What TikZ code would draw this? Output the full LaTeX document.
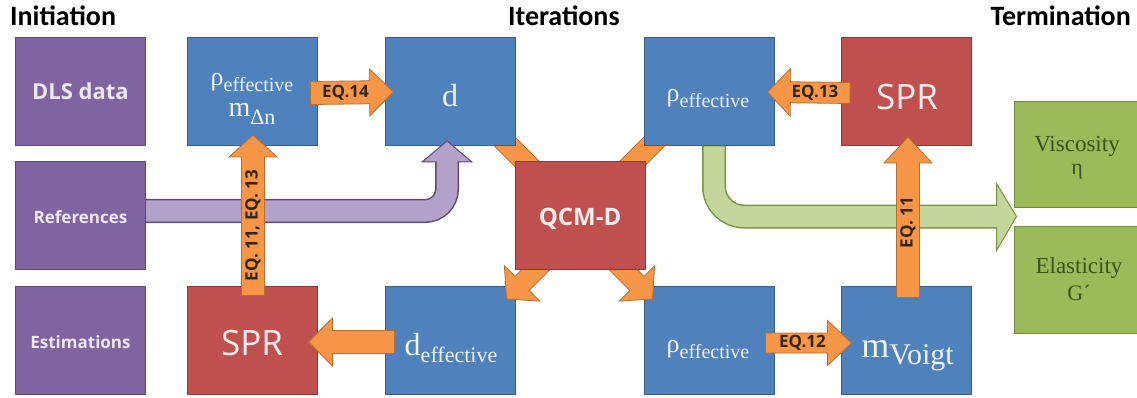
\documentclass[tikz,border=0pt]{standalone}
\usepackage{fontspec}
\setmainfont{Liberation Serif}
\newfontfamily\osans{Open Sans}
\newfontfamily\carl{Carlito}
\usetikzlibrary{calc}
\pgfdeclarelayer{background}
\pgfsetlayers{background,main}
\definecolor{cpurple}{HTML}{8064A2}\definecolor{cpurpleB}{HTML}{5C4776}
\definecolor{cblue}{HTML}{4F81BD}\definecolor{cblueB}{HTML}{385D8A}
\definecolor{cred}{HTML}{C0504D}\definecolor{credB}{HTML}{8C3836}
\definecolor{cgreen}{HTML}{9BBB59}\definecolor{cgreenB}{HTML}{71893F}
\definecolor{corange}{HTML}{F79646}\definecolor{corangeB}{HTML}{B66D31}
\definecolor{lpurple}{HTML}{B3A2C7}\definecolor{lpurpleB}{HTML}{5F497A}
\definecolor{lgreen}{HTML}{C3D69B}\definecolor{lgreenB}{HTML}{77933C}
\definecolor{tpurple}{HTML}{EDE8F3}\definecolor{tblue}{HTML}{EEF3FA}
\definecolor{tred}{HTML}{FBEDED}\definecolor{tgreen}{HTML}{3E5119}
\definecolor{tlab}{HTML}{33261A}
\newcommand\fs[1]{\fontsize{#1}{#1}\selectfont}
\newcommand\blockarrow[6]{%
  \coordinate (bah) at ($(#3)!#6!(#2)$);
  \filldraw[#1] ($(#2)!#4!90:(#3)$) -- ($(bah)!#4!90:(#3)$) -- ($(bah)!#5!90:(#3)$) -- (#3)
    -- ($(bah)!#5!-90:(#3)$) -- ($(bah)!#4!-90:(#3)$) -- ($(#2)!#4!-90:(#3)$) -- cycle;}
\newcommand\effs[2]{\raisebox{-#1}{\fs{#2}effective}}
\begin{document}
\begin{tikzpicture}[x=1pt,y=-1pt,
  box/.style={draw=#1B, fill=#1, line width=1pt, minimum width=130pt, minimum height=108pt, inner sep=0pt},
  txt/.style={inner sep=0pt, anchor=base},
  title/.style={font=\carl\bfseries\fs{28}, inner sep=0pt},
  oarrow/.style={fill=corange, draw=corangeB, line width=0.8pt},
  eqlab/.style={font=\osans\bfseries\fs{17}, text=tlab, inner sep=0pt},
  sanslab/.style={txt, font=\osans\bfseries\fs{#1}},
  serif/.style={txt, text=tblue}]
\useasboundingbox (0,0) rectangle (1137,398);
\clip (0,0) rectangle (1137,398);
% titles
\node[title, anchor=base west] (tI) at (10,26) {Initiation};
\node[title, anchor=base west] (tIt) at (508,26) {Iterations};
\node[title, anchor=base east] (tT) at (1131,26) {Termination};
% boxes
\node[box=cpurple] (dls) at (80.5,91.5) {};
\node[box=cpurple] (ref) at (80.5,215.5) {};
\node[box=cpurple] (est) at (80.5,340) {};
\node[box=cblue] (rhom) at (252,91.5) {};
\node[box=cred] (sprB) at (252,340) {};
\node[box=cblue] (d) at (450,91.5) {};
\node[box=cblue] (deff) at (450,340) {};
\node[box=cblue] (rhoT) at (709,91.5) {};
\node[box=cblue] (rhoB) at (709,340) {};
\node[box=cred] (sprT) at (906.5,91.5) {};
\node[box=cblue] (mv) at (906.5,340) {};
\node[box=cgreen, minimum width=126pt, minimum height=105pt] (visc) at (1077,154.5) {};
\node[box=cgreen, minimum width=126pt, minimum height=107pt] (elas) at (1077,279.5) {};
% diagonal arrows behind the upper boxes
\begin{pgfonlayer}{background}
  \coordinate (tls) at (545,182);
  \coordinate (tle) at ($(d.south east)+(-40,-34)$);
  \blockarrow{oarrow}{tls}{tle}{10.5pt}{20pt}{20pt}
  \coordinate (trs) at (614,182);
  \coordinate (tre) at ($(rhoT.south west)+(40,-34)$);
  \blockarrow{oarrow}{trs}{tre}{10.5pt}{20pt}{20pt}
\end{pgfonlayer}
% diagonal arrows toward lower boxes
\coordinate (bls) at ($(deff.north east)+(36,-31.5)$);
\coordinate (ble) at ($(deff.north east)+(-9,13.5)$);
\blockarrow{oarrow}{bls}{ble}{10pt}{25pt}{22pt}
\coordinate (brs) at ($(rhoB.north west)+(-36,-31.5)$);
\coordinate (bre) at ($(rhoB.north west)+(9,13.5)$);
\blockarrow{oarrow}{brs}{bre}{10pt}{25pt}{22pt}
\node[box=cred, minimum height=107pt] (qcm) at (580,215.5) {};
% box texts
\node[sanslab=22, text=tpurple] (tdls) at ($(dls.center)+(0,8.5)$) {DLS data};
\node[sanslab=17, text=tpurple] (tref) at ($(ref.center)+(0,7.5)$) {References};
\node[sanslab=17, text=tpurple] (test) at ($(est.center)+(0,8)$) {Estimations};
\node[txt, font=\osans\fs{35}, text=tred] (tsprB) at ($(sprB.center)+(0,15)$) {SPR};
\node[txt, font=\osans\fs{35}, text=tred] (tsprT) at ($(sprT.center)+(0.5,18.5)$) {SPR};
\node[sanslab=24, text=tred] (tqcm) at ($(qcm.center)+(0,9.5)$) {QCM-D};
\node[serif] (trhom1) at ($(rhom.center)+(0,-5.5)$) {{\fs{26}ρ}\effs{6pt}{20}};
\node[serif] (trhom2) at ($(rhom.center)+(0,25.5)$) {{\fs{28}m}\raisebox{-8pt}{\fs{22}Δn}};
\node[serif] (td) at ($(d.center)+(0,15.5)$) {\fs{32}d};
\node[serif] (trhoT) at ($(rhoT.center)+(-1,10.5)$) {{\fs{26}ρ}\effs{6pt}{20}};
\node[serif] (trhoB) at ($(rhoB.center)+(-1,12)$) {{\fs{26}ρ}\effs{6pt}{20}};
\node[serif] (tdeff) at ($(deff.center)+(1,15)$) {{\fs{32}d}\effs{7pt}{22}};
\node[serif] (tmv) at ($(mv.center)+(1,17)$) {{\fs{36}m}\raisebox{-7pt}{\fs{30}Voigt}};
\node[txt, text=tgreen, font=\fs{23}] (tvisc1) at ($(visc.center)+(0,-2.5)$) {Viscosity};
\node[txt, text=tgreen, font=\fs{22}] (tvisc2) at ($(visc.center)+(0,20.5)$) {η};
\node[txt, text=tgreen, font=\fs{23}] (telas1) at ($(elas.center)+(2,-6.5)$) {Elasticity};
\node[txt, text=tgreen, font=\fs{22}] (telas2) at ($(elas.center)+(2,20.5)$) {G´};
% purple bent arrow
\coordinate (pS) at ($(ref.east)+(0,-4.5)$);
\coordinate (pE) at ($(d.south)+(-3,16)$);
\draw[line width=24pt, lpurpleB, rounded corners=22pt] (pS) -- (pS -| pE) -- (pE);
\filldraw[fill=lpurple, draw=lpurpleB, line width=1pt] ($(pE)+(-25,0)$) -- ($(pE)+(0,-21)$) -- ($(pE)+(25,0)$) -- cycle;
\draw[line width=21pt, lpurple, rounded corners=22pt] (pS) -- (pS -| pE) -- ($(pE)+(0,-2)$);
% green bent arrow
\coordinate (gS) at ($(rhoT.south)+(5,0)$);
\coordinate (gE) at ($(visc.south west)+(-17,9)$);
\draw[line width=24pt, lgreenB, rounded corners=30pt] (gS) -- (gS |- gE) -- (gE);
\filldraw[fill=lgreen, draw=lgreenB, line width=1pt] ($(gE)+(0,-33)$) -- ($(gE)+(20,0)$) -- ($(gE)+(0,34)$) -- cycle;
\draw[line width=21pt, lgreen, rounded corners=30pt] ($(gS)+(0,0.5)$) -- (gS |- gE) -- ($(gE)+(2,0)$);
% orange arrows
\coordinate (a14s) at ($(rhom.east)+(-7,1.5)$);
\coordinate (a14e) at ($(d.west)+(9,0.5)$);
\blockarrow{oarrow}{a14s}{a14e}{11.5pt}{23.5pt}{24pt}
\node[eqlab] (l14) at ($(a14s)+(35,0)$) {EQ.14};
\coordinate (a13s) at ($(sprT.west)+(9,1.5)$);
\coordinate (a13e) at ($(rhoT.east)+(-7,0.5)$);
\blockarrow{oarrow}{a13s}{a13e}{10.5pt}{24pt}{23pt}
\node[eqlab] (l13) at ($(a13s)+(-35,0)$) {EQ.13};
\coordinate (a12s) at ($(rhoB.east)+(-9,3)$);
\coordinate (a12e) at ($(mv.west)+(10.5,3)$);
\blockarrow{oarrow}{a12s}{a12e}{10pt}{22.5pt}{24pt}
\node[eqlab] (l12) at ($(a12s)+(37,0)$) {EQ.12};
\coordinate (abs) at ($(deff.west)+(10,2)$);
\coordinate (abe) at ($(sprB.east)+(-9,2)$);
\blockarrow{oarrow}{abs}{abe}{11.5pt}{24pt}{24pt}
\coordinate (vLs) at ($(sprB.north)+(1,10)$);
\coordinate (vLe) at ($(rhom.south)+(1,-11)$);
\blockarrow{oarrow}{vLs}{vLe}{11.5pt}{24pt}{22pt}
\node[eqlab, rotate=90] (lvL) at ($(vLs)+(0,-70)$) {EQ. 11, EQ. 13};
\coordinate (vRs) at ($(mv.north)+(1.5,12)$);
\coordinate (vRe) at ($(sprT.south)+(1.5,-9)$);
\blockarrow{oarrow}{vRs}{vRe}{11.5pt}{24pt}{26pt}
\node[eqlab, rotate=90] (lvR) at ($(vRs)+(0,-75)$) {EQ. 11};
\end{tikzpicture}
\end{document}
